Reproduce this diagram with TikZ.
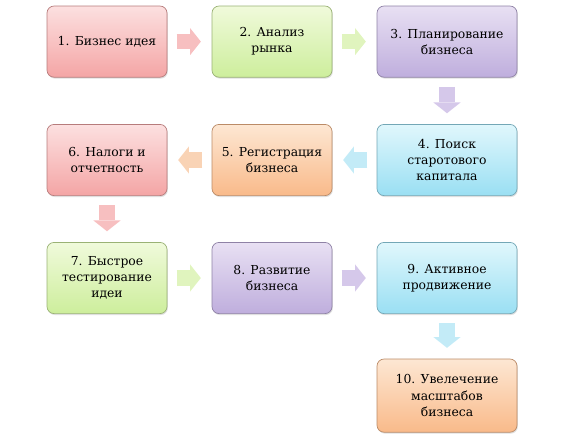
\documentclass[tikz,border=0pt]{standalone}
\usepackage{xcolor}
\usepackage{fontspec}
\setmainfont{DejaVu Serif}
\usetikzlibrary{arrows.meta,shadows}

\definecolor{pinkT}{HTML}{FCE0E0}
\definecolor{pinkB}{HTML}{F4A5A5}
\definecolor{pinkA}{HTML}{F7BFC0}
\definecolor{greenT}{HTML}{F0FADB}
\definecolor{greenB}{HTML}{CDEE9C}
\definecolor{greenA}{HTML}{E0F4BE}
\definecolor{purpleT}{HTML}{E8E0F3}
\definecolor{purpleB}{HTML}{BFAEDD}
\definecolor{purpleA}{HTML}{D5C8EA}
\definecolor{cyanT}{HTML}{E0F7FC}
\definecolor{cyanB}{HTML}{9ADFF3}
\definecolor{cyanA}{HTML}{C3EBF7}
\definecolor{orangeT}{HTML}{FDE7D3}
\definecolor{orangeB}{HTML}{F9BA8A}
\definecolor{orangeA}{HTML}{F9D3B5}

\begin{document}
\begin{tikzpicture}[
  stage/.style 2 args={draw=#2!75!black, line width=0.5pt, rounded corners=5pt,
    top color=#1, bottom color=#2, minimum width=3cm, minimum height=1.78cm,
    align=center, font=\fontsize{8.8}{11.5}\selectfont, text=black,
    drop shadow={opacity=0.25,shadow xshift=0.6pt,shadow yshift=-1pt}},
  flow/.style={draw=#1, line width=0.38cm, shorten <=0.23cm, shorten >=0.27cm,
    -{Triangle[length=0.27cm,width=0.68cm,line width=0pt]}}
]
\useasboundingbox (0,0) rectangle (14.25,-10.9);

\node[stage={pinkT}{pinkB}] (idea) at (2.675,-1.04) {1. Бизнес идея};
\node[stage={greenT}{greenB}] (market) at (6.8,-1.04) {2. Анализ\\рынка};
\node[stage={purpleT}{purpleB}, minimum width=3.5cm] (plan) at (11.175,-1.04) {3. Планирование\\бизнеса};

\node[stage={cyanT}{cyanB}, minimum width=3.5cm] (capital) at (11.175,-4.0) {4. Поиск\\старотового\\капитала};
\node[stage={orangeT}{orangeB}] (register) at (6.8,-4.0) {5. Регистрация\\бизнеса};
\node[stage={pinkT}{pinkB}] (taxes) at (2.675,-4.0) {6. Налоги и\\отчетность};

\node[stage={greenT}{greenB}] (test) at (2.675,-6.95) {7. Быстрое\\тестирование\\идеи};
\node[stage={purpleT}{purpleB}] (grow) at (6.8,-6.95) {8. Развитие\\бизнеса};
\node[stage={cyanT}{cyanB}, minimum width=3.5cm] (promo) at (11.175,-6.95) {9. Активное\\продвижение};

\node[stage={orangeT}{orangeB}, minimum width=3.5cm, minimum height=1.83cm] (scale) at (11.175,-9.89) {10. Увелечение\\масштабов\\бизнеса};

\draw[flow=pinkA] (idea) -- (market);
\draw[flow=greenA] (market) -- (plan);
\draw[flow=purpleA] (plan) -- (capital);
\draw[flow=cyanA] (capital) -- (register);
\draw[flow=orangeA] (register) -- (taxes);
\draw[flow=pinkA] (taxes) -- (test);
\draw[flow=greenA] (test) -- (grow);
\draw[flow=purpleA] (grow) -- (promo);
\draw[flow=cyanA] (promo) -- (scale);

\end{tikzpicture}
\end{document}
